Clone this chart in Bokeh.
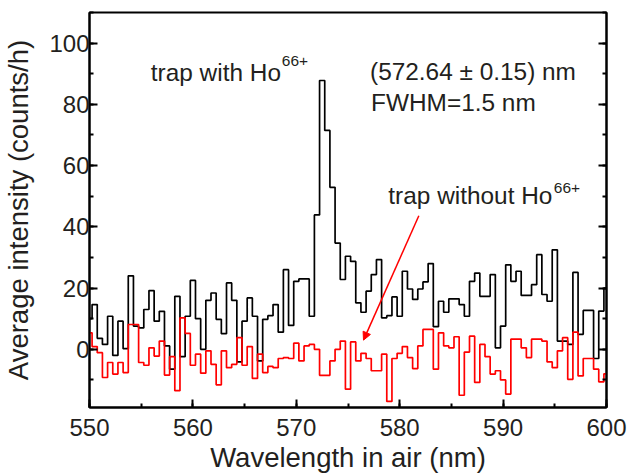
import numpy as np
from bokeh.plotting import figure
from bokeh.models import Range1d, LinearAxis, Label, Arrow, NormalHead, SingleIntervalTicker
from bokeh.embed import file_html
from bokeh.resources import INLINE

# ---- data (bin centres every 0.5 nm) ----
wl_start = 550.0
wl_step = 0.5
with_ho = [10, 14.6, 3.6, 1.6, 10.8, -2, 9.2, 0.2, 24, 7.6,
           7, 13, 19.2, 9.2, 12.4, 1.1, -6.5, 17.3, -2.4, 10.8,
           22.5, 10, 0, 16, 18.4, 9.8, 5.1, 21.7, 16, -4.1,
           9.2, 16.8, 10.8, -3.8, 9.8, 11, 14.6, 5.6, 26, 7.8,
           22.2, 23, 23, 10.8, 43.9, 87.8, 71.5, 52.9, 34.7, 22.8,
           30.4, 28.7, 15.2, 12.1, 19, 24.4, 29.3, 10.3, 11, 17.1,
           10.8, 25.5, 19.7, 16.3, 19.7, 22, 28, 7.4, 15.7, 12.1,
           16.5, 16.5, 14.6, 10.8, 22.2, 24.9, 17.3, 17.3, 24.4, 0.5,
           7.6, 27.6, 22.2, 25.5, 17.6, 17.6, 21.1, 30.9, 17.9, 15.7,
           32.5, 2.7, 2.7, 1.6, 25.1, 4.9, 12.7, 12.7, -3, 12.5,
           20]
without_ho = [5.4, 0.9, -1.1, -9.2, -4.3, -8.1, -4.3, -7.6, 8.1, 8.1,
              -4.3, -5.2, 0.5, -2.2, 2.7, -8.4, -2.4, -13.5, 10.3, 5.2,
              -5.2, -1.6, -7.8, -0.5, -4.9, -11.6, -0.5, -6, -4.9, 3.8,
              -5.2, 0.9, -9.5, -1.6, -7.6, -5.6, -6, -3, -2.7, -3,
              2, -3.8, 1.1, 1.6, 0, -8.5, -8.5, -3.8, 0, 2.7,
              -13, 2.4, -3.8, -1.3, -3, -7, -7, -1.6, -17, -3,
              -1.3, 0.9, -2.7, -6.3, 1.1, 6.5, 6.5, -6.5, 5.4, 1.1,
              0.5, 4.1, -15, -0.9, 4.3, -10.8, 1.6, -2.4, -8.1, -7,
              -10, -14.6, 3.3, 3.3, 0.5, -2.7, 3.3, 3.3, 2.7, -4.1,
              -6, -0.5, 3.8, -9.8, 5.6, -8.7, -3, -3, -6.5, -10.6,
              -8]
wavelength = wl_start + wl_step * np.arange(len(with_ho))

FONT = "Liberation Sans"
TXT = "#231f20"

p = figure(width=628, height=475, x_range=Range1d(550, 600), y_range=Range1d(-19, 110),
           output_backend="svg", toolbar_location=None,
           min_border_left=87, min_border_right=22, min_border_top=12, min_border_bottom=67)
p.xgrid.visible = False
p.ygrid.visible = False
p.outline_line_color = "black"
p.outline_line_width = 2

p.step(wavelength, with_ho, mode="center", line_color="black", line_width=1.7)
p.step(wavelength, without_ho, mode="center", line_color="#ff0000", line_width=1.7)

p.xaxis.ticker = SingleIntervalTicker(interval=10, num_minor_ticks=2)
p.yaxis.ticker = SingleIntervalTicker(interval=20, num_minor_ticks=2)
p.xaxis.axis_label = "Wavelength in air (nm)"
p.yaxis.axis_label = "Average intensity (counts/h)"
for ax in (p.xaxis[0], p.yaxis[0]):
    ax.axis_line_width = 2
    ax.major_tick_line_width = 2
    ax.minor_tick_line_width = 2
    ax.major_tick_in = 8
    ax.major_tick_out = 0
    ax.minor_tick_in = 4
    ax.minor_tick_out = 0
    ax.major_label_text_font = FONT
    ax.major_label_text_font_size = "24px"
    ax.major_label_text_color = TXT
    ax.axis_label_text_font = FONT
    ax.axis_label_text_font_size = "27.5px"
    ax.axis_label_text_font_style = "normal"
    ax.axis_label_text_color = TXT
p.xaxis.major_label_standoff = 11
p.xaxis.axis_label_standoff = 3
p.yaxis.major_label_standoff = 0
p.yaxis.axis_label_standoff = 12

right = LinearAxis(ticker=SingleIntervalTicker(interval=20, num_minor_ticks=2),
                   major_label_text_font_size="1px", major_label_text_color=None,
                   axis_line_width=2,
                   major_tick_line_width=2, minor_tick_line_width=2,
                   major_tick_in=8, major_tick_out=0, minor_tick_in=4, minor_tick_out=0,
                   major_label_standoff=0)
p.add_layout(right, "right")

def lab(x, y, t, size="24.4px", color=TXT):
    p.add_layout(Label(x=x, y=y, text=t, text_font=FONT, text_font_size=size,
                       text_color=color, text_baseline="alphabetic", text_align="left"))

lab(555.93, 90.4, "trap with Ho")
lab(568.6, 94.0, "66+", size="15.5px")
lab(577.13, 90.7, "(572.64 \u00b1 0.15) nm")
lab(577.23, 80.5, "FWHM=1.5 nm")
lab(578.9, 50.1, "trap without Ho")
lab(594.9, 52.6, "66+", size="15.5px")

p.add_layout(Arrow(end=NormalHead(size=8, fill_color="#ff0000", line_color="#ff0000", line_width=1),
                   x_start=581.85, y_start=43.6, x_end=576.5, y_end=3.0,
                   line_color="#ff0000", line_width=1.5))

open("out.html", "w").write(file_html(p, INLINE))
